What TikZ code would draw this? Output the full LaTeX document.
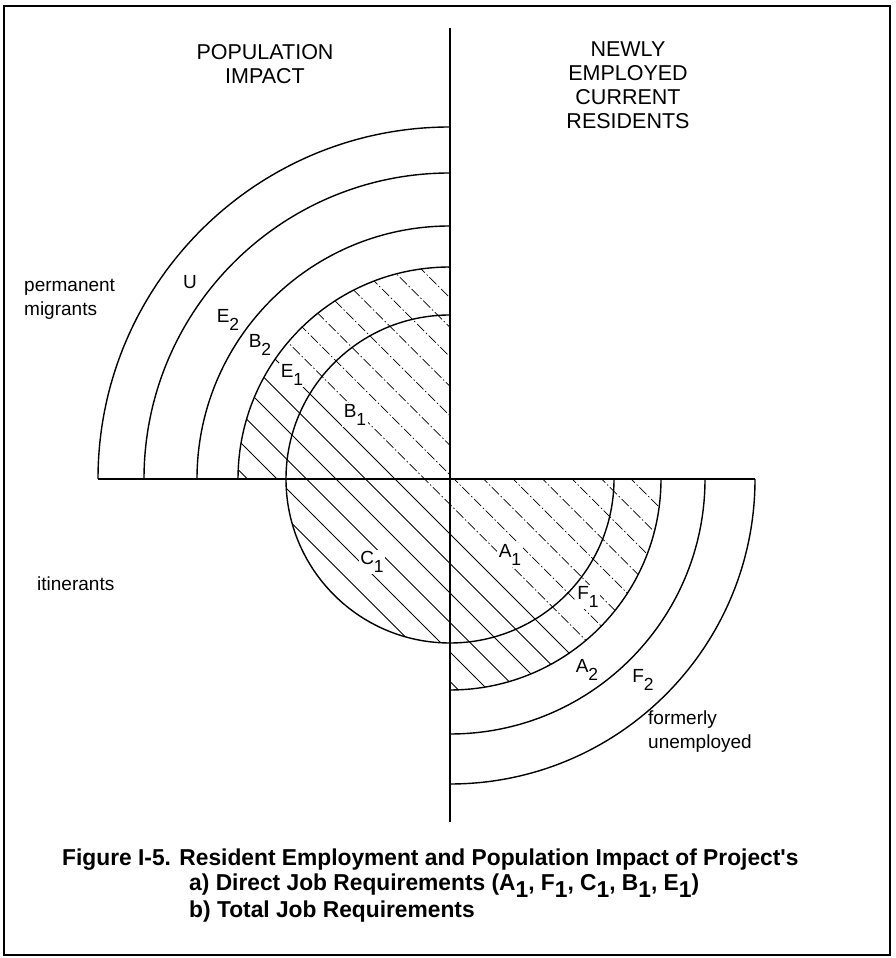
\documentclass[tikz,border=0pt]{standalone}
\usepackage{fontspec}
\setmainfont{Liberation Sans}
\newfontfamily\capfont[FakeStretch=0.99]{Liberation Sans}
\newcommand\lbsub[2]{#1\raisebox{-0.8ex}{\fontsize{17.5}{17.5}\selectfont #2}}
\newcommand\capsub[2]{#1\raisebox{-0.6ex}{#2}}
\begin{document}
\begin{tikzpicture}[x=1pt,y=1pt,
  frameline/.style={line width=1.3pt},
  arcline/.style={line width=1.4pt},
  hatchline/.style={line width=0.85pt},
  hatchlight/.style={line width=0.7pt, dash pattern=on 10pt off 2.5pt on 1.5pt off 2.5pt},
  head/.style={font=\fontsize{21.5}{24}\selectfont, align=center, inner sep=0pt},
  side/.style={font=\fontsize{19}{24}\selectfont, align=left, anchor=west, inner sep=0pt},
  lbl/.style={font=\fontsize{19}{19}\selectfont, inner sep=1.5pt, fill=white},
  captext/.style={font=\capfont\bfseries\fontsize{23}{26}\selectfont, anchor=west, inner sep=0pt}]
\useasboundingbox (0,0) rectangle (895,958);
\draw[frameline] (4,3) rectangle (890,952);
\begin{scope}[shift={(450,479)}]
  \coordinate (O) at (0,0);
  \coordinate (top) at (0,451);
  \coordinate (bot) at (0,-343);
  \coordinate (left) at (-352,0);
  \coordinate (right) at (305,0);
  % hatching
  \begin{scope}
    \clip (O) -- (0,212) arc[start angle=90,end angle=180,radius=212]
      -- (-164,0) arc[start angle=180,end angle=270,radius=164]
      -- (0,-211) arc[start angle=270,end angle=360,radius=211] -- cycle;
    \foreach \k in {-9,...,-2}
      \draw[hatchline] ({4+29.5*\k-400},400) -- ({4+29.5*\k+400},-400);
    \foreach \k in {-1,...,8}
      \draw[hatchlight] ({4+29.5*\k-400},400) -- ({4+29.5*\k+400},-400);
  \end{scope}
  % arcs
  \draw[arcline] (0,164) arc[start angle=90,end angle=360,radius=164];
  \foreach \r in {212,253,306,352}
    \draw[arcline] (0,\r) arc[start angle=90,end angle=180,radius=\r];
  \foreach \r in {211,255,305}
    \draw[arcline] (\r,0) arc[start angle=0,end angle=-90,radius=\r];
  % axes
  \draw[arcline] (top) -- (bot);
  \draw[arcline] (left) -- (right);
  % labels
  \node[lbl] (U) at (-260,197) {U};
  \node[lbl] (E2) at (-222,159) {\lbsub{E}{2}};
  \node[lbl] (B2) at (-190,134) {\lbsub{B}{2}};
  \node[lbl] (E1) at (-158,104) {\lbsub{E}{1}};
  \node[lbl] (B1) at (-95,64) {\lbsub{B}{1}};
  \node[lbl] (C1) at (-78,-83) {\lbsub{C}{1}};
  \node[lbl] (A1) at (60,-76) {\lbsub{A}{1}};
  \node[lbl] (F1) at (138,-118) {\lbsub{F}{1}};
  \node[lbl] (A2) at (137,-191) {\lbsub{A}{2}};
  \node[lbl] (F2) at (193,-201) {\lbsub{F}{2}};
\end{scope}
% headings
\node[head] (pop) at (265,893.5) {POPULATION\\IMPACT};
\node[head] (newly) at (628,873) {NEWLY\\EMPLOYED\\CURRENT\\RESIDENTS};
% side texts
\node[side] (perm) at (24,659) {permanent\\migrants};
\node[side] (itin) at (37,374) {itinerants};
\node[side] (form) at (648,226) {formerly\\unemployed};
% caption
\node[captext] (cap1) at (62,98) {Figure I-5. Resident Employment and Population Impact of Project's};
\node[captext] (cap2) at (189,72) {a) Direct Job Requirements (\capsub{A}{1}, \capsub{F}{1}, \capsub{C}{1}, \capsub{B}{1}, \capsub{E}{1})};
\node[captext] (cap3) at (189,46) {b) Total Job Requirements};
\end{tikzpicture}
\end{document}
